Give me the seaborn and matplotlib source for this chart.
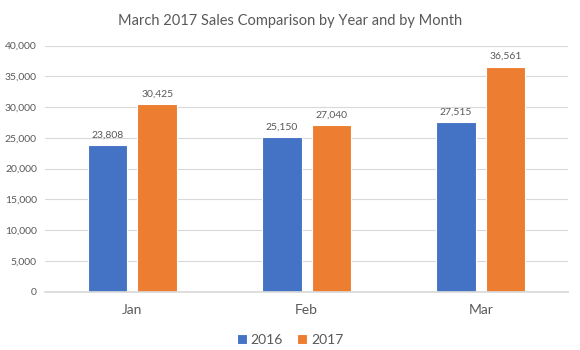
import matplotlib
matplotlib.use("Agg")
import matplotlib.pyplot as plt
import seaborn as sns
import pandas as pd

months = ["Jan", "Feb", "Mar"]
years = ["2016", "2017"]
sales_2016 = [23808, 25150, 27515]
sales_2017 = [30425, 27040, 36561]
y_ticks = [0, 5000, 10000, 15000, 20000, 25000, 30000, 35000, 40000]
title = "March 2017 Sales Comparison by Year and by Month"

df = pd.DataFrame({
    "Month": months * 2,
    "Year": [years[0]] * 3 + [years[1]] * 3,
    "Sales": sales_2016 + sales_2017,
})

sns.set_theme(style="white")
plt.rcParams["font.family"] = ["Lato", "DejaVu Sans"]
gray = "#595959"

fig = plt.figure(figsize=(5.8, 3.5), dpi=100)
ax = fig.add_axes([0.078, 0.167, 0.901, 0.703])

sns.barplot(data=df, x="Month", y="Sales", hue="Year",
            palette=["#4472C4", "#ED7D31"], saturation=1,
            width=0.571, gap=0.2,
            edgecolor="white", linewidth=0.8, ax=ax, legend=True)

ax.set_ylim(0, 40000)
ax.set_xlim(-0.5, 2.5)
ax.set_yticks(y_ticks)
ax.set_yticklabels([f"{v:,}" for v in y_ticks], fontsize=7.5, color=gray)
ax.tick_params(axis="x", labelsize=10, colors=gray, length=0, pad=9)
ax.tick_params(axis="y", length=0, pad=6)
ax.grid(axis="y", color="#D9D9D9", linewidth=0.8)
ax.set_axisbelow(True)
for s in ["top", "right", "left"]:
    ax.spines[s].set_visible(False)
ax.spines["bottom"].set_color("#D9D9D9")
ax.set_xlabel("")
ax.set_ylabel("")

for c in ax.containers:
    ax.bar_label(c, labels=[f"{v:,.0f}" for v in c.datavalues],
                 fontsize=7.5, color=gray, padding=4)

fig.suptitle(title, y=0.96, fontsize=10.5, color=gray)

handles, labels = ax.get_legend_handles_labels()
ax.legend_.remove()
fig.legend(handles, labels, loc="center", bbox_to_anchor=(0.5, 0.03),
           ncol=2, frameon=False, fontsize=10, labelcolor=gray,
           handlelength=0.7, handleheight=0.7, handletextpad=0.3,
           columnspacing=1.0)

fig.savefig("out.png", dpi=100)
